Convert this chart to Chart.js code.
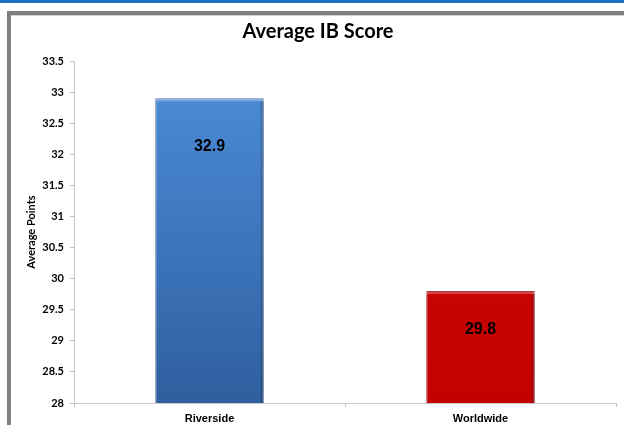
<!DOCTYPE html>
<html>
<head>
<meta charset="utf-8">
<script src="https://cdn.jsdelivr.net/npm/chart.js@4/dist/chart.umd.min.js"></script>
<style>
  html, body { margin: 0; padding: 0; background: #fff; }
  #wrap { position: relative; width: 624px; height: 425px; }
</style>
</head>
<body>
<div id="wrap"><canvas id="chart"></canvas></div>
<script>
// chart data
const categories = ["Riverside", "Worldwide"];
const scores = [32.9, 29.8];
const yTicks = [28, 28.5, 29, 29.5, 30, 30.5, 31, 31.5, 32, 32.5, 33, 33.5];

// bar colours (top, bottom)
const barTop = ["#4d8edb", "#d20a0a"];
const barBottom = ["#2f5f9f", "#c40000"];
const barEdge = ["#2a5590", "#8e0000"];

// page frame: blue strip and grey border like the slide
const framePlugin = {
  id: "frame",
  beforeDraw(chart) {
    const ctx = chart.ctx;
    ctx.save();
    ctx.fillStyle = "#fff";
    ctx.fillRect(0, 0, chart.width, chart.height);
    ctx.fillStyle = "#1f6fbf";
    ctx.fillRect(0, 0, chart.width, 3);
    ctx.fillStyle = "#808080";
    ctx.fillRect(7, 11, chart.width - 7, 4);
    ctx.fillRect(7, 11, 4, chart.height - 11);
    ctx.fillStyle = "#d4d4d4";
    ctx.fillRect(11, 15, chart.width - 11, 1);
    ctx.restore();
  }
};

// bevel edges and value labels on the bars
const barDeco = {
  id: "barDeco",
  afterDatasetsDraw(chart) {
    const ctx = chart.ctx;
    const meta = chart.getDatasetMeta(0);
    const bottom = chart.chartArea.bottom;
    ctx.save();
    meta.data.forEach((bar, i) => {
      const left = bar.x - bar.width / 2;
      const top = bar.y;
      const h = Math.min(bar.base, bottom) - bar.y;
      // light top strip
      ctx.fillStyle = "rgba(255,255,255,0.25)";
      ctx.fillRect(left, top, bar.width, 3);
      // dark right edge
      ctx.fillStyle = "rgba(0,0,0,0.18)";
      ctx.fillRect(left + bar.width - 3, top + 3, 3, h - 3);
      // value label
      ctx.fillStyle = "#000";
      ctx.font = "bold 16px 'Liberation Sans', Arial, sans-serif";
      ctx.textAlign = "center";
      ctx.textBaseline = "middle";
      const off = i === 0 ? 48 : 39;
      ctx.fillText(scores[i].toFixed(1), bar.x, top + off);
    });
    ctx.restore();
  }
};

function barFill(context) {
  const chart = context.chart;
  const area = chart.chartArea;
  if (!area) return barTop[context.dataIndex];
  const bar = chart.getDatasetMeta(0).data[context.dataIndex];
  const y0 = bar && isFinite(bar.y) ? bar.y : area.top;
  const g = chart.ctx.createLinearGradient(0, y0, 0, area.bottom);
  g.addColorStop(0, barTop[context.dataIndex]);
  g.addColorStop(1, barBottom[context.dataIndex]);
  return g;
}

new Chart(document.getElementById("chart"), {
  type: "bar",
  plugins: [framePlugin, barDeco],
  data: {
    labels: categories,
    datasets: [{
      data: scores,
      backgroundColor: barFill,
      borderColor: barEdge,
      borderWidth: 1,
      barPercentage: 0.4,
      categoryPercentage: 1
    }]
  },
  options: {
    responsive: true,
    maintainAspectRatio: false,
    animation: false,
    devicePixelRatio: 1,
    layout: { padding: { left: 20, right: 8, top: 0, bottom: 0 } },
    plugins: {
      legend: { display: false },
      tooltip: { enabled: false },
      title: {
        display: true,
        text: "Average IB Score",
        color: "#000",
        font: { family: "Lato", size: 20, weight: "bold" },
        padding: { top: 20, bottom: 17 }
      }
    },
    scales: {
      x: {
        afterFit(scale) { scale.height = 22; },
        grid: { drawOnChartArea: false, tickLength: 4, color: "#c0c0c0" },
        border: { color: "#c8c8c8" },
        ticks: {
          color: "#000",
          padding: 5,
          font: { family: "'Liberation Sans', Arial", size: 11, weight: "bold" }
        }
      },
      y: {
        min: 28,
        max: 33.5,
        afterBuildTicks(scale) {
          scale.ticks = yTicks.map(v => ({ value: v }));
        },
        afterFit(scale) { scale.width = 54; },
        grid: { drawOnChartArea: false, tickLength: 4, color: "#c0c0c0" },
        border: { color: "#c8c8c8" },
        ticks: {
          color: "#000",
          padding: 6,
          font: { family: "Lato", size: 11, weight: "bold" },
          callback: v => String(+v.toFixed(1))
        },
        title: {
          display: true,
          text: "Average Points",
          color: "#000",
          font: { family: "Lato", size: 11, weight: "bold" },
          padding: { top: 5, bottom: 0 }
        }
      }
    }
  }
});
</script>
</body>
</html>
